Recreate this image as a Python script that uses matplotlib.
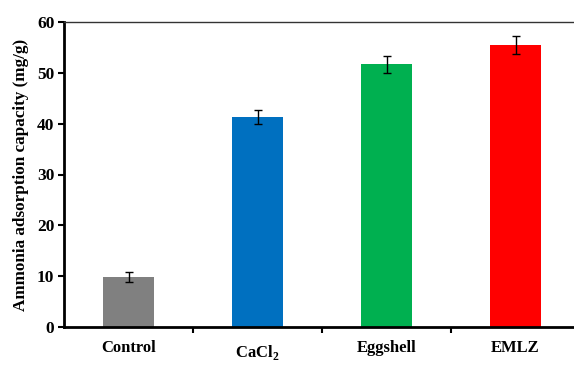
import matplotlib
matplotlib.use("Agg")
import matplotlib.pyplot as plt
import matplotlib.transforms as mtransforms

categories = ["Control", "CaCl$_\\mathbf{2}$", "Eggshell", "EMLZ"]
values = [9.8, 41.3, 51.7, 55.5]
errors = [1.0, 1.3, 1.7, 1.7]
colors = ["#808080", "#0070C0", "#00B050", "#FF0000"]
yticks = [0, 10, 20, 30, 40, 50, 60]

plt.rcParams["font.family"] = ["Liberation Serif", "DejaVu Serif"]
plt.rcParams["font.weight"] = "bold"
plt.rcParams["mathtext.fontset"] = "custom"
plt.rcParams["mathtext.rm"] = "Liberation Serif:bold"
plt.rcParams["mathtext.bf"] = "Liberation Serif:bold"

W, H = 574, 365
fig = plt.figure(figsize=(W / 100, H / 100), dpi=100)
left, right, bottom, top = 64, 580, 327, 22
ax = fig.add_axes([left / W, 1 - bottom / H, (right - left) / W, (bottom - top) / H])

x = list(range(len(categories)))
ax.bar(x, values, width=0.4, color=colors, zorder=2)
ax.errorbar(x, values, yerr=errors, fmt="none", ecolor="black", elinewidth=1.0,
            capsize=3, capthick=1.0, zorder=3)

ax.set_xlim(-0.5, 3.5)
ax.set_ylim(0, 60)
ax.set_yticks(yticks)
ax.set_yticklabels([str(v) for v in yticks], fontsize=12.5, fontweight="bold")
ax.set_xticks([0.5, 1.5, 2.5])
ax.set_xticklabels([])
ax.set_xticks(x, minor=True)
ax.set_xticklabels(categories, minor=True, fontsize=12, fontweight="bold")
ax.tick_params(axis="x", which="minor", length=0, pad=9)
ax.tick_params(axis="x", which="major", direction="out", length=4, width=1.5)
ax.tick_params(axis="y", direction="out", length=4, width=1.5, pad=3)

for lab in ax.get_xticklabels(minor=True):
    if "Cl" in lab.get_text():
        lab.set_transform(lab.get_transform() + mtransforms.ScaledTranslation(0, -4 / 100, fig.dpi_scale_trans))

ax.set_ylabel("Ammonia adsorption capacity (mg/g)", fontsize=12.3, fontweight="bold", labelpad=6)

for s in ["left", "bottom"]:
    ax.spines[s].set_linewidth(2)
    ax.spines[s].set_color("black")
ax.spines["top"].set_linewidth(1)
ax.spines["top"].set_color("#333333")
ax.spines["right"].set_visible(False)

fig.savefig("out.png", dpi=100)
